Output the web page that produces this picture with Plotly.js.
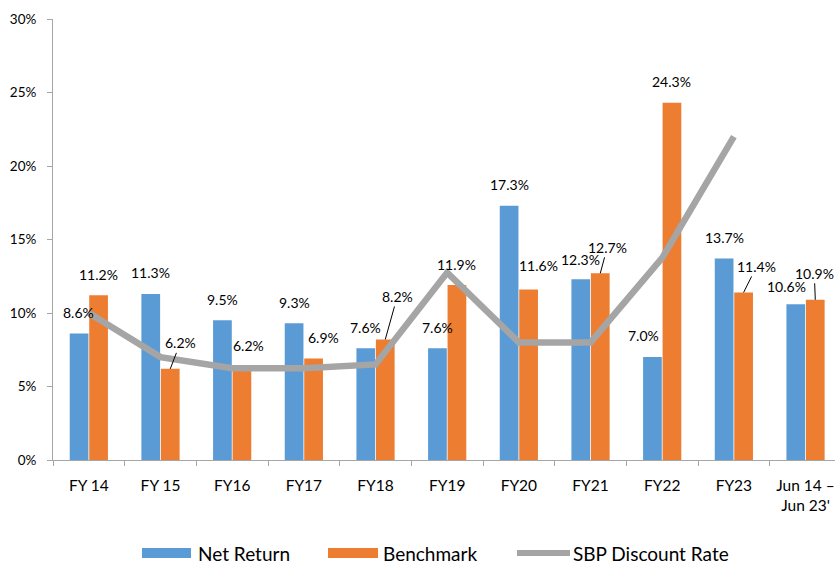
<!DOCTYPE html>
<html>
<head>
<meta charset="utf-8">
<script src="https://cdn.plot.ly/plotly-3.0.1.min.js"></script>
<style>
html,body{margin:0;padding:0;background:#fff;}
#chart{width:835px;height:563px;}
</style>
</head>
<body>
<div id="chart"></div>
<script>
// ---- data ----
var categories = ["FY 14","FY 15","FY16","FY17","FY18","FY19","FY20","FY21","FY22","FY23","Jun 14 –<br>Jun 23'"];
var netReturn  = [8.6, 11.3, 9.5, 9.3, 7.6, 7.6, 17.3, 12.3, 7.0, 13.7, 10.6];
var benchmark  = [11.2, 6.2, 6.2, 6.9, 8.2, 11.9, 11.6, 12.7, 24.3, 11.4, 10.9];
var sbpRate    = [10.0, 7.0, 6.25, 6.25, 6.5, 12.75, 8.0, 8.0, 13.75, 22.0, null];
var yTicks     = [0, 5, 10, 15, 20, 25, 30];
var seriesNames = ["Net Return", "Benchmark", "SBP Discount Rate"];

// ---- styles ----
var BLUE = "#5B9BD5", ORANGE = "#ED7D31", GRAY = "#A5A5A5";
var FONT = "Lato, 'Open Sans', sans-serif";
var BAR_OFF = 9.75;
// label offsets relative to bar-top centre: [dx, dy(up)], leader flag
var netLabelOff = [[-1,21],[0,21],[0,21],[0,21],[0,21],[0,21],[0,21],[0,20],[-9,22],[0,21],[-9,18]];
var bmLabelOff  = [[0,21],[10,26],[7,23],[10,21],[12,43],[0,21],[10,23.5],[7,26],[0,21],[13,26],[-1,26.5]];
var bmLeader    = [false,true,false,false,true,false,false,true,false,true,true];

var traces = [
  {type:"bar", name:seriesNames[0], x:categories, y:netReturn, marker:{color:BLUE}, hoverinfo:"skip"},
  {type:"bar", name:seriesNames[1], x:categories, y:benchmark, marker:{color:ORANGE}, hoverinfo:"skip"},
  {type:"scatter", mode:"lines", name:seriesNames[2], x:categories, y:sbpRate,
   line:{color:GRAY, width:6.5}, connectgaps:false, hoverinfo:"skip"}
];

var annotations = [];
function addLabel(i, val, sideOff, off, leader){
  var base = {x:categories[i], y:val, xref:"x", yref:"y", text:val.toFixed(1)+"%",
              font:{family:FONT, size:14, color:"#000"}};
  if (leader){
    base.showarrow = true; base.arrowhead = 0; base.arrowwidth = 1; base.arrowcolor = "#000";
    base.xshift = sideOff; base.ax = off[0]; base.ay = -off[1]; base.standoff = 0;
  } else {
    base.showarrow = false; base.xshift = sideOff + off[0]; base.yshift = off[1];
    base.xanchor = "center"; base.yanchor = "middle";
  }
  annotations.push(base);
}
for (var i=0;i<categories.length;i++){
  addLabel(i, netReturn[i], -BAR_OFF, netLabelOff[i], false);
  addLabel(i, benchmark[i], BAR_OFF, bmLabelOff[i], bmLeader[i]);
}

// custom legend (paper coords)
var L = 53, R = 835, T = 19, B = 460;
function px(x){return (x-L)/(R-L);}
function py(y){return (B-y)/(B-T);}
var shapes = [
  {type:"rect", xref:"paper", yref:"paper", x0:px(142), x1:px(191), y0:py(558), y1:py(548), fillcolor:BLUE, line:{width:0}},
  {type:"rect", xref:"paper", yref:"paper", x0:px(328), x1:px(378), y0:py(558), y1:py(548), fillcolor:ORANGE, line:{width:0}},
  {type:"line", xref:"paper", yref:"paper", x0:px(517), x1:px(570), y0:py(553), y1:py(553), line:{color:GRAY, width:6}}
];
var legendText = [[197, seriesNames[0], 120], [382, seriesNames[1], 120], [572, seriesNames[2], 190]];
legendText.forEach(function(t){
  annotations.push({xref:"paper", yref:"paper", x:px(t[0]), y:py(553), text:t[1], showarrow:false,
    xanchor:"left", yanchor:"middle", width:t[2], height:26, align:"left", borderpad:0,
    font:{family:FONT, size:19, color:"#000"}});
});

var layout = {
  width:835, height:563,
  margin:{l:L, r:0, t:T, b:563-B},
  paper_bgcolor:"#fff", plot_bgcolor:"#fff",
  showlegend:false,
  barmode:"group", bargap:0.456, bargroupgap:0.04,
  font:{family:FONT, color:"#000"},
  xaxis:{type:"category", range:[-0.5, -0.5 + (R-L)/71.67], tickson:"boundaries",
         ticks:"outside", ticklen:5, tickcolor:"#A6A6A6", showline:true, linecolor:"#A6A6A6", linewidth:1,
         showgrid:false, zeroline:false, tickfont:{family:FONT, size:15.5, color:"#000"}, ticklabelstandoff:11,
         fixedrange:true},
  yaxis:{range:[0,30], tickvals:yTicks, ticktext:yTicks.map(function(v){return v+"%";}),
         ticks:"outside", ticklen:5, tickcolor:"#A6A6A6", showline:true, linecolor:"#A6A6A6", linewidth:1,
         showgrid:false, zeroline:false, tickfont:{family:FONT, size:13.5, color:"#000"}, ticklabelstandoff:8,
         fixedrange:true},
  annotations:annotations,
  shapes:shapes
};

Plotly.newPlot("chart", traces, layout, {displayModeBar:false, staticPlot:true});
</script>
</body>
</html>
